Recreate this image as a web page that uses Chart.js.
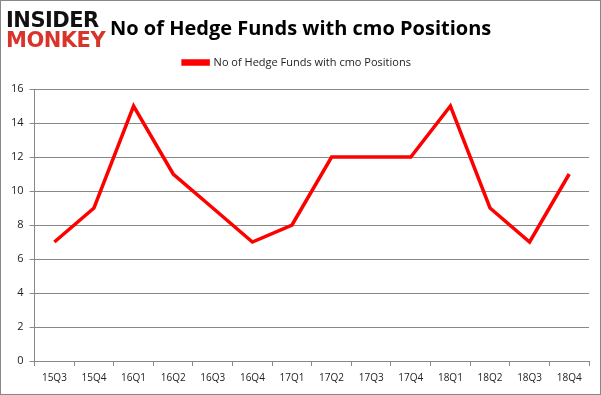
<!DOCTYPE html>
<html>
<head>
<meta charset="utf-8">
<script src="https://cdn.jsdelivr.net/npm/chart.js@4"></script>
<style>
  body { margin: 0; background: #fff; }
  #wrap { position: relative; width: 599px; height: 393px; border: 1px solid #888; background: #fff; }
  #logo { position: absolute; left: 5px; top: 9px; font-family: "DejaVu Sans", sans-serif; font-weight: bold; line-height: 20px; font-size: 21px; letter-spacing: -0.5px; }
  #logo .a { color: #111; }
  #logo .b { color: #d9342b; }
  #title { position: absolute; left: 109px; top: 13px; font-family: "Open Sans", sans-serif; font-weight: bold; font-size: 20px; color: #000; }
  canvas { position: absolute; left: 0; top: 0; }
</style>
</head>
<body>
<div id="wrap">
  <canvas id="chart" width="599" height="393"></canvas>
  <div id="logo"><div class="a">INSIDER</div><div class="b">MONKEY</div></div>
  <div id="title">No of Hedge Funds with cmo Positions</div>
</div>
<script>
// Data
const quarters = ['15Q3', '15Q4', '16Q1', '16Q2', '16Q3', '16Q4', '17Q1', '17Q2', '17Q3', '17Q4', '18Q1', '18Q2', '18Q3', '18Q4'];
const fundCounts = [7, 9, 15, 11, 9, 7, 8, 12, 12, 12, 15, 9, 7, 11];
const seriesName = 'No of Hedge Funds with cmo Positions';

// extra room below the legend
const legendGap = {
    id: 'legendGap',
    beforeInit(chart) {
        const origFit = chart.legend.fit;
        chart.legend.fit = function () {
            origFit.bind(chart.legend)();
            this.height += 11;
        };
    }
};

const ctx = document.getElementById('chart').getContext('2d');
new Chart(ctx, {
    type: 'line',
    data: {
        labels: quarters,
        datasets: [{
            label: seriesName,
            data: fundCounts,
            borderColor: '#ff0000',
            backgroundColor: '#ff0000',
            borderWidth: 3.5,
            pointRadius: 0,
            tension: 0
        }]
    },
    options: {
        responsive: false,
        animation: false,
        layout: { padding: { top: 46, right: 11, left: 4, bottom: 4 } },
        plugins: {
            legend: {
                labels: {
                    boxWidth: 25,
                    boxHeight: 3,
                    color: '#222',
                    font: { family: 'Open Sans', size: 11 }
                }
            },
            tooltip: { enabled: false }
        },
        scales: {
            x: {
                offset: true,
                grid: { offset: true, drawOnChartArea: false, color: '#888', tickLength: 5 },
                border: { color: '#888' },
                ticks: { color: '#222', font: { family: 'Open Sans', size: 10 }, maxRotation: 0, padding: 6 }
            },
            y: {
                min: 0,
                max: 16,
                ticks: { stepSize: 2, color: '#222', font: { family: 'Open Sans', size: 11 }, padding: 6 },
                grid: { color: '#888', tickLength: 5 },
                border: { color: '#888' }
            }
        }
    },
    plugins: [legendGap]
});
</script>
</body>
</html>
